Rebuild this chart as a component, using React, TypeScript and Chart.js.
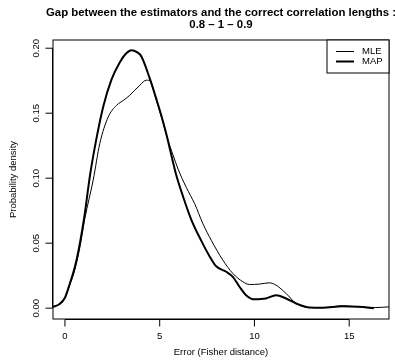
import React, { useEffect, useRef } from "react";
import { Chart, registerables } from "chart.js";

Chart.register(...registerables);

// ---- data ----
const titleLines = [
  "Gap between the estimators and the correct correlation lengths :",
  "0.8 \u2013 1 \u2013 0.9",
];
const xAxisTitle = "Error (Fisher distance)";
const yAxisTitle = "Probability density";
const seriesNames = ["MLE", "MAP"];

const mleX = [-0.63, -0.3, 0, 0.26, 0.53, 0.79, 1.05, 1.49, 1.84, 2.28, 2.72, 3.1, 3.42, 3.95, 4.3, 4.5, 4.82, 5.09, 5.44, 5.7, 5.97, 6.4, 6.84, 7.28, 7.72, 8.33, 8.86, 9.39, 9.74, 10.26, 10.79, 11.14, 11.67, 12.2, 12.9, 13.6, 14.65, 15.5, 16.4, 17.1];
const mleY = [0.001, 0.003, 0.008, 0.018, 0.03, 0.047, 0.069, 0.0985, 0.1267, 0.147, 0.156, 0.16, 0.1638, 0.1715, 0.1754, 0.1748, 0.16, 0.147, 0.129, 0.118, 0.107, 0.093, 0.0805, 0.065, 0.0523, 0.037, 0.0267, 0.0203, 0.0182, 0.0185, 0.0195, 0.0177, 0.0113, 0.0036, 0.0005, 0.0004, 0.0018, 0.001, 0.0005, 0.001];

const mapX = [-0.63, -0.3, 0, 0.26, 0.53, 0.79, 1.05, 1.32, 1.67, 2.02, 2.46, 2.89, 3.2, 3.51, 3.8, 4.04, 4.47, 4.82, 5.09, 5.35, 5.61, 5.88, 6.23, 6.67, 7.19, 7.63, 7.98, 8.51, 8.86, 9.21, 9.56, 10.0, 10.6, 11.14, 11.67, 12.2, 12.9, 13.6, 14.65, 15.5, 16.3];
const mapY = [0.001, 0.003, 0.008, 0.019, 0.032, 0.05, 0.073, 0.102, 0.131, 0.155, 0.176, 0.189, 0.1955, 0.1985, 0.197, 0.1935, 0.177, 0.161, 0.148, 0.134, 0.118, 0.102, 0.086, 0.068, 0.052, 0.04, 0.0322, 0.028, 0.0241, 0.0165, 0.01, 0.0068, 0.0074, 0.01, 0.0074, 0.0036, 0.0005, 0.0003, 0.0015, 0.001, 0.0];

const xTicks = [0, 5, 10, 15];
const xTickLabels = ["0", "5", "10", "15"];
const yTicks = [0, 0.05, 0.1, 0.15, 0.2];
const yTickLabels = ["0.00", "0.05", "0.10", "0.15", "0.20"];

const xRange = [-0.63, 17.1];
const yRange = [-0.00795, 0.2067];

const FONT = "'Liberation Sans', Arial, Helvetica, sans-serif";

const rPlot = {
  id: "rPlot",
  afterDraw(chart: any) {
    const { ctx, chartArea: a, scales } = chart;
    const xs = scales.x;
    const ys = scales.y;
    const L = Math.round(a.left);
    const R = Math.round(a.right);
    const T = Math.round(a.top);
    const B = Math.round(a.bottom);
    ctx.save();
    ctx.strokeStyle = "#000";
    ctx.fillStyle = "#000";
    ctx.lineWidth = 1;

    // box
    ctx.strokeRect(L, T, R - L, B - T);

    // y axis
    const yFirst = ys.getPixelForValue(yTicks[0]);
    const yLast = ys.getPixelForValue(yTicks[yTicks.length - 1]);
    ctx.beginPath();
    ctx.moveTo(L - 0.5, yFirst);
    ctx.lineTo(L - 0.5, yLast);
    yTicks.forEach((v) => {
      const py = ys.getPixelForValue(v);
      ctx.moveTo(L - 0.5, py);
      ctx.lineTo(L - 7.5, py);
    });
    ctx.stroke();
    ctx.font = `9.5px ${FONT}`;
    ctx.textAlign = "center";
    ctx.textBaseline = "middle";
    yTicks.forEach((v, i) => {
      const py = ys.getPixelForValue(v);
      ctx.save();
      ctx.translate(L - 16.5, py);
      ctx.rotate(-Math.PI / 2);
      ctx.fillText(yTickLabels[i], 0, 0);
      ctx.restore();
    });

    // x axis
    const xFirst = xs.getPixelForValue(xTicks[0]);
    const xLast = xs.getPixelForValue(xTicks[xTicks.length - 1]);
    ctx.beginPath();
    ctx.moveTo(xFirst, B + 0.5);
    ctx.lineTo(xLast, B + 0.5);
    xTicks.forEach((v) => {
      const px = xs.getPixelForValue(v);
      ctx.moveTo(px, B + 0.5);
      ctx.lineTo(px, B + 7.5);
    });
    ctx.stroke();
    xTicks.forEach((v, i) => {
      const px = xs.getPixelForValue(v);
      ctx.fillText(xTickLabels[i], px, B + 17);
    });

    // axis titles
    const cx = (L + R) / 2;
    const cy = (T + B) / 2;
    ctx.fillText(xAxisTitle, cx, B + 33);
    ctx.save();
    ctx.translate(13.5, cy);
    ctx.rotate(-Math.PI / 2);
    ctx.fillText(yAxisTitle, 0, 0);
    ctx.restore();

    // main title
    ctx.font = `bold 11.4px ${FONT}`;
    ctx.fillText(titleLines[0], cx, 12.5);
    ctx.fillText(titleLines[1], cx, 24.5);

    // legend
    const lw = 62;
    const lh = 33;
    const lx = R - lw;
    const ly = T;
    ctx.fillStyle = "#fff";
    ctx.fillRect(lx, ly, lw, lh);
    ctx.strokeStyle = "#000";
    ctx.lineWidth = 1;
    ctx.strokeRect(lx, ly, lw, lh);
    ctx.fillStyle = "#000";
    ctx.font = `9.5px ${FONT}`;
    ctx.textAlign = "left";
    const widths = [1, 2];
    seriesNames.forEach((name, i) => {
      const yy = ly + 11.5 + i * 10;
      ctx.beginPath();
      ctx.lineWidth = widths[i];
      ctx.moveTo(lx + 9, yy);
      ctx.lineTo(lx + 27, yy);
      ctx.stroke();
      ctx.fillText(name, lx + 35, yy);
    });
    ctx.restore();
  },
};

export default function App() {
  const ref = useRef<HTMLCanvasElement | null>(null);
  useEffect(() => {
    if (!ref.current) return;
    const chart = new Chart(ref.current, {
      type: "line",
      data: {
        datasets: [
          {
            label: seriesNames[0],
            data: mleX.map((x, i) => ({ x, y: mleY[i] })),
            borderColor: "#000",
            borderWidth: 1,
            pointRadius: 0,
            fill: false,
            cubicInterpolationMode: "monotone",
          },
          {
            label: seriesNames[1],
            data: mapX.map((x, i) => ({ x, y: mapY[i] })),
            borderColor: "#000",
            borderWidth: 2,
            pointRadius: 0,
            fill: false,
            cubicInterpolationMode: "monotone",
          },
        ],
      },
      options: {
        animation: false,
        responsive: false,
        devicePixelRatio: 1,
        layout: { padding: { left: 53, right: 6, top: 39.5, bottom: 42.5 } },
        scales: {
          x: { type: "linear", min: xRange[0], max: xRange[1], display: false },
          y: { type: "linear", min: yRange[0], max: yRange[1], display: false },
        },
        plugins: {
          legend: { display: false },
          title: { display: false },
          tooltip: { enabled: false },
        },
      },
      plugins: [rPlot],
    } as any);
    return () => chart.destroy();
  }, []);
  return (
    <div style={{ position: "fixed", left: 0, top: 0, width: 395, height: 361, background: "#fff" }}>
      <canvas ref={ref} width={395} height={361} />
    </div>
  );
}
